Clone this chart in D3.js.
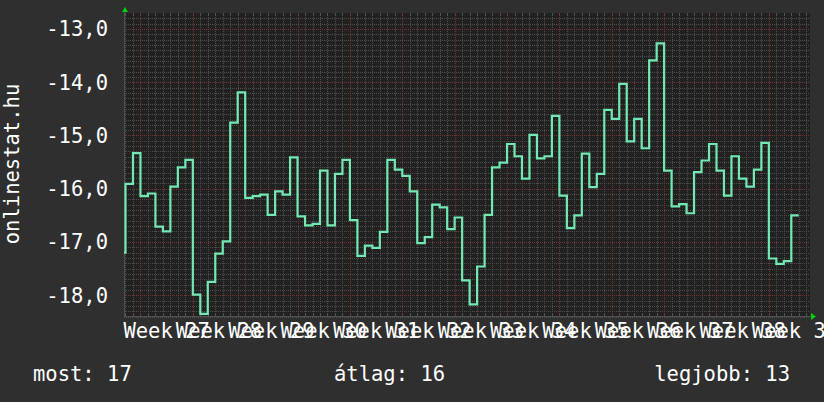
<!DOCTYPE html>
<html>
<head>
<meta charset="utf-8">
<script src="https://cdn.jsdelivr.net/npm/d3@7"></script>
<style>
  html, body { margin: 0; padding: 0; background: #2f2f2f; }
  svg { display: block; }
  text { font-family: "DejaVu Sans Mono", monospace; fill: #ffffff; }
</style>
</head>
<body>
<svg id="chart" width="824" height="402"></svg>
<script>
// daily values (negated rank), first one is the partial day before day 0
const firstDay = -1;
const rankValues = [
  -17.20,
  -15.91, -15.33, -16.14, -16.09, -16.71, -16.80, -15.96, -15.60, -15.46, -17.99,
  -18.35, -17.75, -17.22, -16.99, -14.76, -14.19, -16.17, -16.14, -16.11, -16.49,
  -16.05, -16.11, -15.41, -16.52, -16.69, -16.66, -15.66, -16.69, -15.72, -15.46,
  -16.59, -17.26, -17.07, -17.11, -16.81, -15.46, -15.64, -15.76, -16.05, -17.02,
  -16.91, -16.30, -16.35, -16.76, -16.54, -17.72, -18.17, -17.46, -16.49, -15.60,
  -15.51, -15.16, -15.39, -15.81, -14.99, -15.43, -15.39, -14.63, -16.13, -16.74,
  -16.50, -15.34, -15.97, -15.72, -14.52, -14.69, -14.03, -15.11, -14.69, -15.24,
  -13.59, -13.27, -15.66, -16.33, -16.29, -16.46, -15.69, -15.47, -15.16, -15.66,
  -16.13, -15.39, -15.81, -15.96, -15.64, -15.14, -17.31, -17.41, -17.36, -16.50
];
const weekLabels = ["Week 27", "Week 28", "Week 29", "Week 30", "Week 31", "Week 32", "Week 33",
  "Week 34", "Week 35", "Week 36", "Week 37", "Week 38", "Week 39"];
const weekStartDays = [2, 9, 16, 23, 30, 37, 44, 51, 58, 65, 72, 79, 86];
const yTicks = [-13, -14, -15, -16, -17, -18];
const yLabel = "onlinestat.hu";
const legendItems = [["most: 17", "start"], ["átlag: 16", "start"], ["legjobb: 13", "end"]];

const svg = d3.select("#chart");
const pLeft = 124, pRight = 810, pTop = 13, pBottom = 316;
const fontSize = 20.5;

const x = d3.scaleLinear().domain([-0.2, 91.5]).range([pLeft, pRight]);
const y = d3.scaleLinear().domain([-18.39, -12.7]).range([pBottom, pTop]);

svg.append("rect")
  .attr("x", pLeft).attr("y", pTop)
  .attr("width", pRight - pLeft).attr("height", pBottom - pTop)
  .attr("fill", "#212121");

const grid = svg.append("g").attr("shape-rendering", "crispEdges");
const px = v => Math.round(v) + 0.5;

// minor grid: one line per day, one per 0.1
const minorDays = d3.range(0, 92).filter(d => !weekStartDays.includes(d) && x(d) < pRight);
grid.selectAll("line.vminor")
  .data(minorDays)
  .join("line")
  .attr("x1", d => px(x(d))).attr("x2", d => px(x(d)))
  .attr("y1", pTop).attr("y2", pBottom)
  .attr("stroke", "#4e4e4e").attr("stroke-dasharray", "1,1");

const minorY = d3.range(-184, -127).map(d => d / 10).filter(v => !yTicks.includes(v));
grid.selectAll("line.hminor")
  .data(minorY)
  .join("line")
  .attr("x1", pLeft).attr("x2", pRight)
  .attr("y1", d => px(y(d))).attr("y2", d => px(y(d)))
  .attr("stroke", "#4e4e4e").attr("stroke-dasharray", "1,1");

// major grid
grid.selectAll("line.vmajor")
  .data(weekStartDays)
  .join("line")
  .attr("x1", d => px(x(d))).attr("x2", d => px(x(d)))
  .attr("y1", pTop).attr("y2", pBottom)
  .attr("stroke", "#743434").attr("stroke-dasharray", "1,1");

grid.selectAll("line.hmajor")
  .data(yTicks)
  .join("line")
  .attr("x1", pLeft).attr("x2", pRight)
  .attr("y1", d => px(y(d))).attr("y2", d => px(y(d)))
  .attr("stroke", "#743434").attr("stroke-dasharray", "1,1");

// small solid ticks at the edges
const tickDays = d3.range(0, 92).filter(d => x(d) < pRight);
grid.selectAll("line.tickb")
  .data(tickDays)
  .join("line")
  .attr("x1", d => px(x(d))).attr("x2", d => px(x(d)))
  .attr("y1", pBottom - 2).attr("y2", pBottom)
  .attr("stroke", d => weekStartDays.includes(d) ? "#7a3434" : "#555");
grid.selectAll("line.tickt")
  .data(tickDays)
  .join("line")
  .attr("x1", d => px(x(d))).attr("x2", d => px(x(d)))
  .attr("y1", pTop).attr("y2", pTop + 2)
  .attr("stroke", d => weekStartDays.includes(d) ? "#7a3434" : "#555");

// axes
grid.append("line")
  .attr("x1", pLeft).attr("x2", pRight + 2)
  .attr("y1", pBottom + 0.5).attr("y2", pBottom + 0.5)
  .attr("stroke", "#505050");
grid.append("line")
  .attr("x1", pLeft + 0.5).attr("x2", pLeft + 0.5)
  .attr("y1", pTop - 1).attr("y2", pBottom + 2)
  .attr("stroke", "#505050");

svg.append("path")
  .attr("d", `M${pLeft - 2},${pTop - 1} L${pLeft + 4},${pTop - 1} L${pLeft + 1},${pTop - 6} Z`)
  .attr("fill", "#00d400");
svg.append("path")
  .attr("d", `M${pRight + 1},${pBottom - 3} L${pRight + 1},${pBottom + 4} L${pRight + 6},${pBottom + 0.5} Z`)
  .attr("fill", "#00d400");

// data line
svg.append("clipPath").attr("id", "plotclip")
  .append("rect")
  .attr("x", pLeft).attr("y", pTop - 1)
  .attr("width", pRight - pLeft).attr("height", pBottom - pTop + 1);

const points = rankValues.map((v, i) => ({ t: Math.max(firstDay + i, x.domain()[0]), v }));
points.push({ t: firstDay + rankValues.length, v: rankValues[rankValues.length - 1] });

const line = d3.line()
  .x(d => x(d.t))
  .y(d => y(d.v))
  .curve(d3.curveStepAfter);

svg.append("path")
  .datum(points)
  .attr("clip-path", "url(#plotclip)")
  .attr("d", line)
  .attr("fill", "none")
  .attr("stroke", "#72e8b2")
  .attr("stroke-width", 2.2)
  .attr("stroke-linejoin", "miter");

// y tick labels
svg.selectAll("text.ylab")
  .data(yTicks)
  .join("text")
  .attr("x", 108)
  .attr("y", d => y(d) + 7.5)
  .attr("text-anchor", "end")
  .attr("font-size", fontSize)
  .text(d => d3.format(".1f")(d).replace("−", "-").replace(".", ","));

// x week labels, centred in the middle of each week (they overlap, as in the original)
svg.selectAll("text.xlab")
  .data(weekLabels)
  .join("text")
  .attr("x", (d, i) => x(weekStartDays[i] + 3.5))
  .attr("y", 338)
  .attr("text-anchor", "middle")
  .attr("font-size", fontSize)
  .text(d => d);

svg.append("text")
  .attr("transform", "translate(18.5,164) rotate(-90)")
  .attr("text-anchor", "middle")
  .attr("font-size", fontSize)
  .text(yLabel);

const legendX = [33, 334, 790];
svg.selectAll("text.legend")
  .data(legendItems)
  .join("text")
  .attr("x", (d, i) => legendX[i])
  .attr("y", 381)
  .attr("text-anchor", d => d[1])
  .attr("font-size", fontSize)
  .text(d => d[0]);
</script>
</body>
</html>
